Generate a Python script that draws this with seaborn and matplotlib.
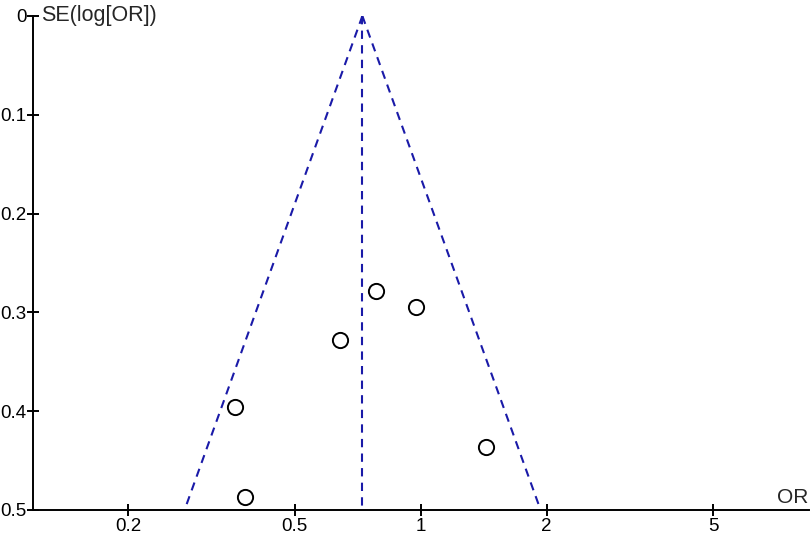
import matplotlib
matplotlib.use("Agg")
import matplotlib.pyplot as plt
import numpy as np
import pandas as pd
import seaborn as sns

# study estimates
study_or = [0.781, 0.977, 0.643, 0.360, 1.437, 0.380]
study_se = [0.278, 0.295, 0.328, 0.396, 0.436, 0.487]

# pooled estimate and 95% pseudo-confidence limits
pooled_or = 0.726
funnel_se = [0.0, 0.5]
funnel_left = [0.726, 0.273]
funnel_right = [0.726, 1.935]

x_ticks = [0.2, 0.5, 1, 2, 5]
x_tick_labels = ["0.2", "0.5", "1", "2", "5"]
y_ticks = [0, 0.1, 0.2, 0.3, 0.4, 0.5]
y_tick_labels = ["0", "0.1", "0.2", "0.3", "0.4", "0.5"]

sns.set_style("white")
plt.rcParams["font.family"] = ["Liberation Sans", "DejaVu Sans"]

df = pd.DataFrame({"OR": study_or, "SE": study_se})

fig = plt.figure(figsize=(8.1, 5.35), dpi=100)
ax = fig.add_axes([33 / 810, 25 / 535, 776 / 810, 494 / 535])

line_col = "#1a1aa8"
dash = (0, (4, 3))
ax.plot(funnel_left, funnel_se, color=line_col, linestyle=dash, linewidth=1.5)
ax.plot(funnel_right, funnel_se, color=line_col, linestyle=dash, linewidth=1.5)
ax.plot([pooled_or, pooled_or], funnel_se, color=line_col, linestyle=dash, linewidth=1.5)

sns.scatterplot(data=df, x="OR", y="SE", ax=ax, marker="o", s=120,
                facecolor="white", edgecolor="black", linewidth=1.4, zorder=3)

ax.set_xscale("log")
ax.set_xlim(0.1186, 8.47)
ax.set_ylim(0.5, 0.0)
ax.set_xticks(x_ticks)
ax.set_xticklabels(x_tick_labels)
ax.set_xticks([], minor=True)
ax.set_yticks(y_ticks)
ax.set_yticklabels(y_tick_labels)
ax.set_xlabel("")
ax.set_ylabel("")

for side in ["top", "right"]:
    ax.spines[side].set_visible(False)
for side in ["left", "bottom"]:
    ax.spines[side].set_color("black")
    ax.spines[side].set_linewidth(1.4)
ax.tick_params(axis="both", which="major", direction="inout", length=9, width=1.4,
               colors="black", labelsize=13.5, left=True, bottom=True)
ax.tick_params(axis="x", pad=1)
ax.tick_params(axis="y", pad=0)

ax.text(0.011, 1.0, "SE(log[OR])", transform=ax.transAxes, fontsize=15.5,
        ha="left", va="center")
ax.text(0.999, 0.006, "OR", transform=ax.transAxes, fontsize=15,
        ha="right", va="bottom")

fig.savefig("out.png", dpi=100)
